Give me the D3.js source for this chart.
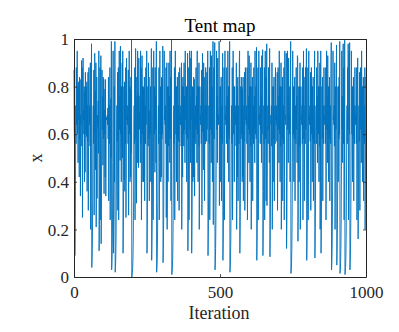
<!DOCTYPE html>
<html><head><meta charset="utf-8">
<script src="https://cdn.jsdelivr.net/npm/d3@7"></script>
<style>body{margin:0;background:#fff}svg{display:block}</style>
</head><body>
<svg id="c" width="399" height="332"></svg>
<script>
const title = "Tent map";
const xLabel = "Iteration";
const yLabel = "x";
const xTicks = [0, 500, 1000];
const xTickLabels = ["0", "500", "1000"];
const yTicks = [0, 0.2, 0.4, 0.6, 0.8, 1];
const yTickLabels = ["0", "0.2", "0.4", "0.6", "0.8", "1"];
const values = [
.87,.62,.55,.09,.18,.36,.72,.56,.88,.64,.72,.95,.60,.80,.48,.82,.66,.79,.42,.84,
.58,.83,.34,.68,.64,.72,.91,.55,.88,.25,.50,.92,.66,.70,.60,.80,.40,.78,.44,.86,
.70,.60,.80,.59,.82,.36,.72,.57,.86,.28,.56,.88,.68,.64,.72,.55,.90,.20,.40,.80,
.98,.04,.08,.16,.32,.64,.72,.56,.87,.26,.52,.94,.61,.78,.45,.90,.21,.42,.84,.33,
.66,.68,.63,.74,.52,.95,.11,.22,.44,.88,.24,.48,.93,.14,.28,.56,.87,.62,.76,.47,
.84,.58,.83,.35,.70,.60,.79,.42,.83,.34,.67,.66,.67,.66,.68,.64,.71,.58,.84,.32,
.64,.72,.56,.88,.24,.48,.75,.50,.99,.03,.06,.12,.24,.48,.95,.10,.20,.40,.80,.40,
.99,.02,.04,.08,.16,.32,.64,.72,.57,.86,.28,.56,.88,.24,.48,.95,.62,.76,.49,.97,
.60,.80,.40,.80,.55,.90,.50,.95,.10,.20,.40,.80,.41,.82,.36,.72,.56,.88,.25,.50,
.92,.66,.68,.64,.72,.56,.87,.26,.52,.95,.60,.80,.40,.79,.42,.84,.52,1.0,.00,.01,
.02,.04,.08,.16,.32,.64,.72,.56,.88,.24,.48,.96,.58,.84,.31,.62,.76,.48,.95,.62,
.77,.46,.92,.66,.69,.62,.76,.48,.95,.56,.88,.24,.48,.93,.60,.80,.40,.80,.40,.79,
.42,.84,.32,.64,.72,.56,.88,.64,.72,.95,.10,.20,.40,.80,.55,.90,.58,.84,.32,.65,
.70,.60,.80,.40,.80,.96,.07,.14,.28,.56,.88,.24,.48,.95,.70,.60,.80,.44,.88,.62,
.76,.48,.99,.02,.04,.08,.16,.32,.64,.72,.56,.88,.24,.48,.95,.60,.80,.40,.79,.42,
.84,.58,.83,.60,.97,.06,.12,.24,.48,.95,.66,.68,.64,.72,.56,.88,.25,.50,.90,.20,
.40,.80,.40,.80,.55,.90,.62,.76,.48,.95,.58,.84,.32,.64,.995,.01,.02,.04,.08,.16,
.32,.64,.72,.56,.88,.24,.48,.95,.70,.60,.80,.40,.80,.58,.84,.32,.64,.72,.57,.86,
.28,.56,.88,.66,.68,.64,.72,.55,.90,.20,.40,.80,.42,.84,.60,.80,.55,.90,.62,.76,
.48,.95,.66,.68,.60,.80,.40,.80,.58,.94,.11,.22,.44,.88,.24,.48,.95,.62,.76,.48,
.92,.66,.95,.10,.20,.40,.80,.40,.79,.42,.84,.58,.83,.34,.68,.64,.72,.56,.88,.62,
.76,.48,.95,.60,.80,.40,.80,.55,.90,.20,.40,.80,.66,.68,.64,.72,.56,.87,.26,.52,
.94,.61,.78,.45,.90,.58,.84,.32,.64,.72,.56,.88,.64,.72,.57,.86,.62,.76,.95,.09,
.18,.36,.72,.56,.88,.24,.48,.95,.62,.76,.48,.93,.60,.80,.40,.80,.99,.22,.44,.88,
.58,.84,.985,.03,.06,.12,.24,.48,.95,.62,.76,.48,.92,.66,.68,.64,.72,.99,.30,.60,
.80,.40,.80,.58,.84,.32,.64,.72,.56,.94,.07,.14,.28,.56,.88,.24,.48,.95,.66,.68,
.64,.72,.56,.88,.62,.76,.48,.95,.60,.80,.40,.80,.58,.99,.02,.04,.08,.16,.32,.64,
.72,.56,.88,.24,.48,.95,.70,.60,.80,.40,.80,.66,.68,.64,.72,.55,.90,.20,.40,.80,
.42,.84,.32,.64,.72,.56,.88,.95,.10,.20,.40,.80,.58,.84,.60,.80,.40,.79,.42,.84,
.32,.64,.72,.57,.86,.28,.56,.88,.66,.68,.64,.72,.56,.88,.24,.48,.95,.62,.76,.48,
.93,.60,.80,.40,.80,.55,.90,.20,.40,.80,.58,.84,.32,.64,.72,.56,.88,.62,.76,.48,
.95,.70,.60,.80,.58,.965,.07,.14,.28,.56,.88,.24,.48,.95,.66,.68,.64,.72,.56,.88,
.62,.76,.48,.93,.60,.80,.955,.09,.18,.36,.72,.56,.88,.24,.48,.95,.58,.84,.32,.64,
.98,.30,.60,.64,.72,.56,.88,.62,.76,.48,.96,.085,.17,.34,.68,.64,.72,.55,.90,.20,
.40,.80,.40,.80,.58,.84,.32,.64,.72,.56,.88,.66,.68,.64,.72,.57,.86,.28,.56,.88,
.62,.76,.48,.95,.60,.80,.40,.80,.55,.90,.20,.40,.80,.58,.84,.32,.64,.72,.56,.88,
.24,.48,.95,.66,.68,.64,.72,.94,.12,.24,.48,.95,.62,.76,.48,.92,.66,.68,.60,.80,
.40,.80,.99,.015,.03,.06,.12,.24,.48,.95,.70,.60,.80,.40,.80,.58,.84,.32,.64,.72,
.56,.88,.62,.76,.48,.93,.92,.15,.30,.60,.80,.40,.80,.55,.90,.20,.40,.80,.66,.68,
.64,.72,.56,.88,.24,.48,.95,.58,.84,.32,.64,.72,.56,.88,.62,.76,.96,.07,.14,.28,
.56,.88,.24,.48,.95,.66,.68,.64,.72,.57,.86,.28,.56,.88,.60,.80,.40,.80,.58,.84,
.32,.64,.72,.56,.95,.08,.16,.32,.64,.72,.56,.88,.62,.76,.48,.95,.70,.60,.80,.40,
.80,.55,.90,.20,.40,.95,.10,.20,.40,.80,.58,.84,.32,.64,.72,.56,.88,.66,.68,.64,
.72,.56,.88,.24,.48,.95,.62,.76,.48,.93,.60,.80,.40,.80,.58,.84,.32,.64,.72,.56,
.88,.985,.03,.06,.12,.24,.48,.95,.66,.68,.64,.72,.55,.90,.20,.40,.80,.62,.76,.975,
.05,.10,.20,.40,.80,.40,.80,.58,.84,.60,.99,.015,.03,.06,.12,.24,.48,.95,.62,.76,
.48,.93,.98,.56,.88,.24,.48,.995,.01,.02,.04,.08,.16,.32,.64,.72,.56,.88,.62,.98,
.24,.48,.95,.60,.985,.03,.06,.12,.24,.48,.95,.70,.60,.80,.40,.80,.58,.84,.32,.64,
.72,.56,.88,.66,.68,.64,.72,.56,.88,.24,.48,.92,.92,.16,.32,.64,.72,.57,.86,.28,
.56,.88,.62,.76,.48,.95,.60,.80,.40,.80,.58,.84,.32,.64,.72,.56,.88,.20,.40,.84
];

const svg = d3.select("#c");
const L = 74, R = 366, T = 39, B = 277;
const x = d3.scaleLinear().domain([0, 1000]).range([L, R]);
const y = d3.scaleLinear().domain([0, 1]).range([B, T]);
const axisColor = "#262626";
const font = "'Liberation Serif','Times New Roman',serif";

// data line
svg.append("path")
  .datum(values)
  .attr("fill", "none")
  .attr("stroke", "#0072BD")
  .attr("stroke-width", 0.9)
  .attr("stroke-linejoin", "round")
  .attr("d", d3.line().x((d, i) => x(i)).y(d => y(d)));

// axes
const xb = svg.append("g").attr("transform", `translate(0,${B})`)
  .call(d3.axisBottom(x).tickValues(xTicks).tickSizeInner(-3).tickSizeOuter(0).tickPadding(9)
    .tickFormat((d, i) => xTickLabels[i]));
const xt = svg.append("g").attr("transform", `translate(0,${T})`)
  .call(d3.axisTop(x).tickValues(xTicks).tickSizeInner(-3).tickSizeOuter(0).tickFormat(""));
const yl = svg.append("g").attr("transform", `translate(${L},0)`)
  .call(d3.axisLeft(y).tickValues(yTicks).tickSizeInner(-3).tickSizeOuter(0).tickPadding(5)
    .tickFormat((d, i) => yTickLabels[i]));
const yr = svg.append("g").attr("transform", `translate(${R},0)`)
  .call(d3.axisRight(y).tickValues(yTicks).tickSizeInner(-3).tickSizeOuter(0).tickFormat(""));

[xb, xt, yl, yr].forEach(g => {
  g.selectAll("path.domain").attr("stroke", axisColor).attr("stroke-width", 1);
  g.selectAll(".tick line").attr("stroke", axisColor).attr("stroke-width", 0.8);
  g.selectAll("text").attr("fill", "#262626").style("font-family", font).style("font-size", "17px");
});
yl.selectAll("text").attr("dy", "0.34em");

// title and labels
svg.append("text").attr("x", (L + R) / 2).attr("y", 32).attr("text-anchor", "middle")
  .style("font-family", font).style("font-size", "19px").attr("fill", "#000").text(title);
svg.append("text").attr("x", (L + R) / 2 - 1).attr("y", 319).attr("text-anchor", "middle")
  .style("font-family", font).style("font-size", "18px").attr("fill", "#262626").text(xLabel);
svg.append("text").attr("transform", `translate(42,${(T + B) / 2}) rotate(-90)`).attr("text-anchor", "middle")
  .style("font-family", font).style("font-size", "18px").attr("fill", "#262626").text(yLabel);
</script>
</body></html>
